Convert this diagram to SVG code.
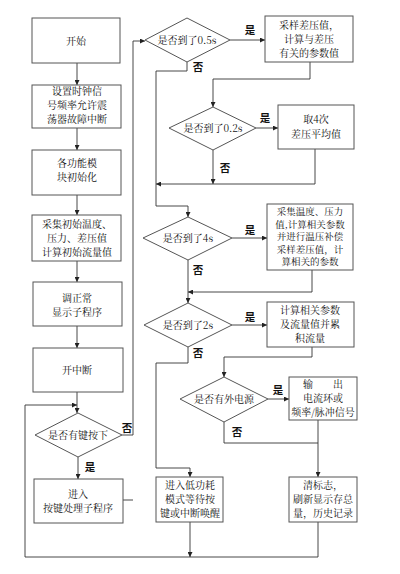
<svg xmlns="http://www.w3.org/2000/svg" width="400" height="574" viewBox="0 0 400 574">
<defs>
<marker id="ah" viewBox="0 0 10 10" refX="10" refY="5" markerWidth="5" markerHeight="5" orient="auto-start-reverse" markerUnits="userSpaceOnUse">
<path d="M0,0 L10,5 L0,10 z" fill="#222"/>
</marker>
<style>
.b{fill:#fff;stroke:#555;stroke-width:1}
.t{font-family:"Noto Serif CJK SC","Noto Sans CJK SC",serif;font-size:10px;fill:#111;text-anchor:middle}
.s{font-size:9.5px}
.c{fill:none;stroke:#333;stroke-width:0.9}
.a{marker-end:url(#ah)}
.l{font-family:"Noto Sans CJK SC",sans-serif;font-size:10.5px;fill:#111;text-anchor:middle;font-weight:bold}
</style>
</defs>
<rect width="400" height="574" fill="#fff"/>
<g id="connectors">
<path class="c a" d="M77,63 V85"/>
<path class="c a" d="M77,128 V150"/>
<path class="c a" d="M77,195 V215"/>
<path class="c a" d="M77,261 V282"/>
<path class="c a" d="M77,326 V348"/>
<path class="c a" d="M77,392 V413"/>
<path class="c a" d="M318,522 V557 H25 V405 H77"/>
<path class="c a" d="M190,522 V557"/>
<path class="c a" d="M78,457 V479"/>
<path class="c a" d="M122,435 H133 V41 H145"/>
<path class="c" d="M123,500 H133"/>
<path class="c a" d="M230,40 H265"/>
<path class="c a" d="M310,62 V79 H213 V107"/>
<path class="c a" d="M256,128 H278"/>
<path class="c a" d="M213,150 V184"/>
<path class="c a" d="M315,149 V184 H156"/>
<path class="c a" d="M187,62 V71 H156 V206 H188 V217"/>
<path class="c a" d="M232,238 H267"/>
<path class="c a" d="M188,260 V303"/>
<path class="c a" d="M312,270 V292 H188"/>
<path class="c a" d="M232,325 H267"/>
<path class="c a" d="M188,347 V363 H156 V468 H190 V477"/>
<path class="c a" d="M312,347 V357 H224 V377"/>
<path class="c a" d="M268,399 H289"/>
<path class="c" d="M224,422 V443 H318"/>
<path class="c a" d="M318,420 V477"/>
<text class="l" x="90" y="471">是</text>
<text class="l" x="127" y="432">否</text>
<text class="l" x="250" y="34">是</text>
<text class="l" x="198" y="71">否</text>
<text class="l" x="265" y="122">是</text>
<text class="l" x="225" y="172">否</text>
<text class="l" x="250" y="234">是</text>
<text class="l" x="198" y="274">否</text>
<text class="l" x="250" y="321">是</text>
<text class="l" x="198" y="357">否</text>
<text class="l" x="278" y="394">是</text>
<text class="l" x="237" y="436">否</text>
</g>
<g id="n_start"><rect class="b" x="32" y="18" width="88" height="45"/><text class="t" x="76" y="45">开始</text></g>
<g id="n_clock"><rect class="b" x="32" y="85" width="89" height="43"/><text class="t" x="77" y="95">设置时钟信</text><text class="t" x="77" y="109">号频率允许震</text><text class="t" x="77" y="123">荡器故障中断</text></g>
<g id="n_init"><rect class="b" x="32" y="150" width="89" height="45"/><text class="t" x="77" y="167">各功能模</text><text class="t" x="77" y="181">块初始化</text></g>
<g id="n_sample"><rect class="b" x="32" y="215" width="89" height="46"/><text class="t" x="77" y="228">采集初始温度、</text><text class="t" x="77" y="242">压力、差压值</text><text class="t" x="77" y="256">计算初始流量值</text></g>
<g id="n_disp"><rect class="b" x="33" y="282" width="89" height="44"/><text class="t" x="77" y="302">调正常</text><text class="t" x="77" y="316">显示子程序</text></g>
<g id="n_int"><rect class="b" x="33" y="348" width="90" height="44"/><text class="t" x="77" y="374">开中断</text></g>
<g id="n_key"><polygon class="b" points="78,413 122,435 78,457 35,435"/><text class="t" x="78" y="439">是否有键按下</text></g>
<g id="n_keyproc"><rect class="b" x="34" y="479" width="89" height="44"/><text class="t" x="78" y="498">进入</text><text class="t" x="78" y="512">按键处理子程序</text></g>
<g id="n_d05"><polygon class="b" points="187,18 230,40 187,62 145,40"/><text class="t" x="187" y="44">是否到了0.5s</text></g>
<g id="n_samp05"><rect class="b" x="265" y="16" width="88" height="46"/><text class="t" x="309" y="28.5">采样差压值，</text><text class="t" x="309" y="42.5">计算与差压</text><text class="t" x="309" y="56.5">有关的参数值</text></g>
<g id="n_d02"><polygon class="b" points="213,107 256,128 213,150 169,128"/><text class="t" x="213" y="132">是否到了0.2s</text></g>
<g id="n_avg"><rect class="b" x="278" y="105" width="76" height="44"/><text class="t" x="316" y="123">取4次</text><text class="t" x="316" y="138">差压平均值</text></g>
<g id="n_d4"><polygon class="b" points="188,217 232,238 188,260 143,238"/><text class="t" x="188" y="242">是否到了4s</text></g>
<g id="n_comp"><rect class="b" x="267" y="204" width="86" height="66"/><text class="t s" x="310" y="215">采集温度、压力</text><text class="t s" x="310" y="227.5">值,计算相关参数</text><text class="t s" x="310" y="240">并进行温压补偿</text><text class="t s" x="310" y="252.5">采样差压值，计</text><text class="t s" x="310" y="265">算相关的参数</text></g>
<g id="n_d2"><polygon class="b" points="188,303 232,325 188,347 144,325"/><text class="t" x="188" y="329">是否到了2s</text></g>
<g id="n_flow"><rect class="b" x="267" y="302" width="87" height="45"/><text class="t" x="310" y="314">计算相关参数</text><text class="t" x="310" y="328">及流量值并累</text><text class="t" x="310" y="342">积流量</text></g>
<g id="n_pwr"><polygon class="b" points="224,377 268,399 224,422 180,399"/><text class="t" x="224" y="403">是否有外电源</text></g>
<g id="n_out"><rect class="b" x="289" y="377" width="68" height="43"/><text class="t" x="323" y="388">输　　出</text><text class="t" x="323" y="402">电流环或</text><text class="t" x="323" y="416">频率/脉冲信号</text></g>
<g id="n_lowpwr"><rect class="b" x="156" y="477" width="67" height="45"/><text class="t" x="190" y="489">进入低功耗</text><text class="t" x="190" y="503">模式等待按</text><text class="t" x="190" y="517">键或中断唤醒</text></g>
<g id="n_clear"><rect class="b" x="289" y="477" width="68" height="45"/><text class="t" x="323" y="489">清标志，</text><text class="t" x="323" y="503">刷新显示存总</text><text class="t" x="323" y="517">量，历史记录</text></g>
</svg>
